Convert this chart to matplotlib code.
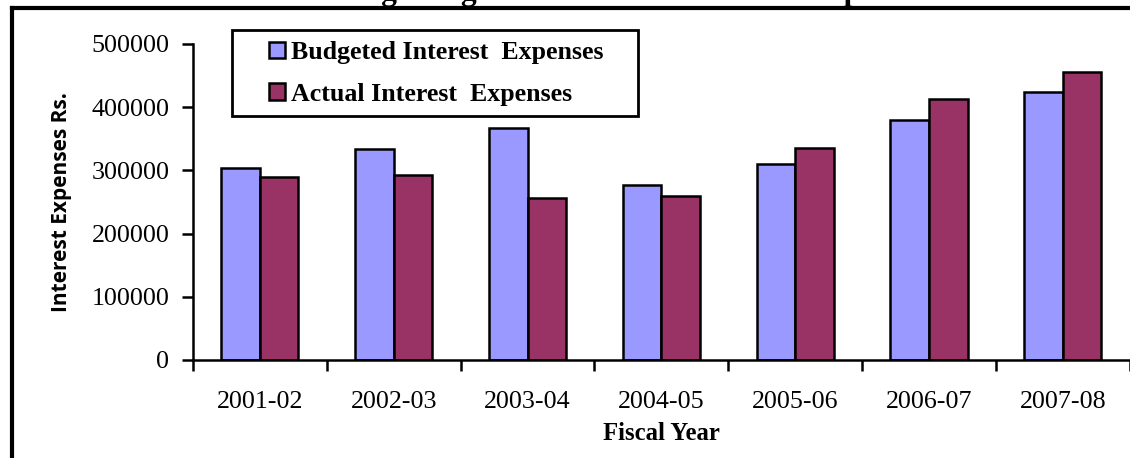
import matplotlib.pyplot as plt
import numpy as np
from matplotlib.lines import Line2D
from matplotlib.patches import Rectangle

# Data
years = ['2001-02', '2002-03', '2003-04', '2004-05', '2005-06', '2006-07', '2007-08']
budgeted = [303000, 334000, 367000, 277000, 310000, 380000, 424000]
actual = [289000, 292000, 256000, 259000, 335000, 413000, 455000]

serif = 'Liberation Serif'

fig = plt.figure(figsize=(11.3, 4.58), dpi=100)
ax = fig.add_axes([0.1708, 0.214, 0.829, 0.690])

x = np.arange(len(years))
w = 0.288
ax.bar(x - w / 2, budgeted, w, color='#9999FF', edgecolor='black', linewidth=1.8,
       label='Budgeted Interest  Expenses')
ax.bar(x + w / 2, actual, w, color='#993366', edgecolor='black', linewidth=1.8,
       label='Actual Interest  Expenses')

ax.set_xlim(-0.5, len(years) - 0.5)
ax.set_ylim(0, 500000)

# Axes / spines
for s in ['top', 'right']:
    ax.spines[s].set_visible(False)
ax.spines['left'].set_linewidth(1.8)
ax.spines['bottom'].set_linewidth(1.8)

ax.set_yticks(np.arange(0, 500001, 100000))
ax.set_yticklabels([str(v) for v in range(0, 500001, 100000)], fontfamily=serif, fontsize=18.7)
ax.tick_params(axis='y', length=8, width=1.8, pad=9)

ax.set_xticks(np.arange(-0.5, len(years), 1.0))
ax.set_xticklabels([])
ax.tick_params(axis='x', which='major', length=8, width=1.8)
ax.set_xticks(x, minor=True)
ax.set_xticklabels(years, minor=True, fontfamily=serif, fontsize=18.7)
ax.tick_params(axis='x', which='minor', length=0, pad=22)

ax.set_xlabel('Fiscal Year', fontfamily=serif, fontweight='bold', fontsize=17.8, labelpad=6.5)
ax.set_ylabel('Interest Expenses Rs.', fontfamily='Open Sans', fontweight='bold', fontsize=15, labelpad=14)

# Legend (frame drawn separately so it can have wider side margins)
fig.add_artist(Rectangle((232 / 1130, 1 - 116 / 458), 406 / 1130, 86 / 458, transform=fig.transFigure,
                         facecolor='white', edgecolor='black', linewidth=2, zorder=4))
leg = fig.legend(loc='upper left', bbox_to_anchor=(269 / 1130, 1 - 41 / 458),
                 prop={'family': serif, 'weight': 'bold', 'size': 18.6},
                 frameon=False, handlelength=0.62, handleheight=0.62,
                 handletextpad=0.25, borderpad=0, labelspacing=0.72, borderaxespad=0)
leg.set_zorder(5)

# Frame lines around the chart (cut off picture)
fig.add_artist(Line2D([0.011, 0.011], [0, 0.9825], color='black', lw=3, transform=fig.transFigure))
fig.add_artist(Line2D([0.011, 1.0], [0.9825, 0.9825], color='black', lw=3, transform=fig.transFigure))

# Partially visible title
fig.text(0.5, 0.999, 'Chart showing Budgeted and Actual Interest Expenses', ha='center',
         va='baseline', fontfamily=serif, fontweight='bold', fontsize=22.7)

fig.savefig('out.png', dpi=100)
